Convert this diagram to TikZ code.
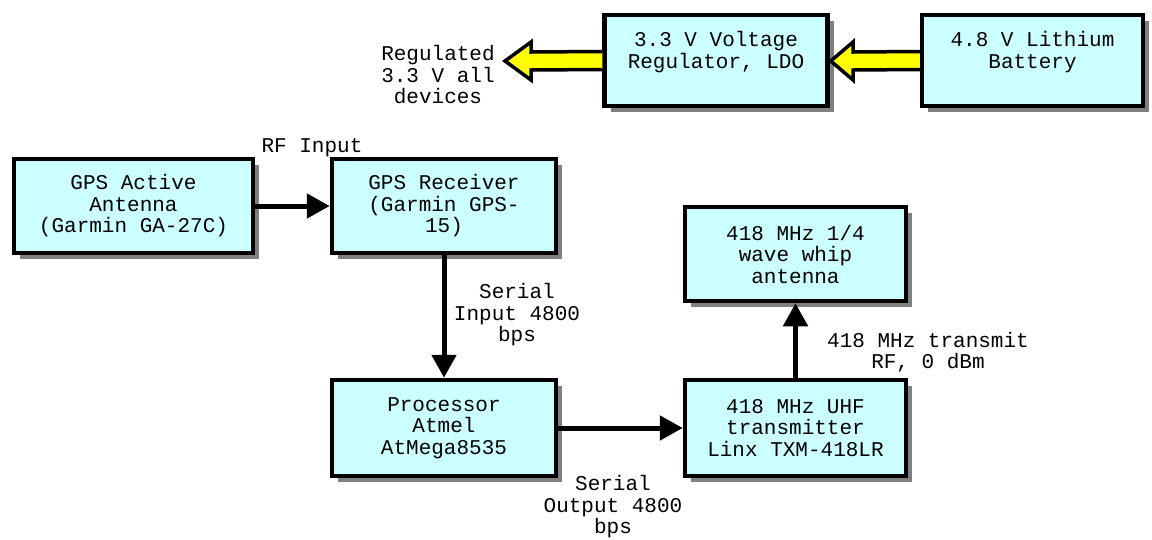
\documentclass[tikz,border=0pt]{standalone}
\usepackage{fontspec}
\setmainfont{Liberation Mono}
\usetikzlibrary{arrows.meta,shadows,calc}
\definecolor{boxfill}{HTML}{CCFFFF}
\definecolor{shadowgray}{HTML}{808080}
\definecolor{fatyellow}{HTML}{FFFF00}
\newcommand{\diagfont}{\fontsize{21}{21.5}\selectfont}
\begin{document}
\begin{tikzpicture}[x=1pt,y=-1pt,
  box/.style={draw=black, line width=4.5pt, fill=boxfill, align=center,
    inner sep=0pt, font=\diagfont,
    drop shadow={shadow xshift=6pt, shadow yshift=-6pt, fill=shadowgray, opacity=1}},
  lbl/.style={align=center, inner sep=0pt, font=\diagfont},
  conn/.style={line width=5pt, -{Triangle[width=24pt,length=23pt]}},
  fatbody/.style={fill=fatyellow},
  fatline/.style={draw=black, line width=3.5pt, line join=miter}]
\useasboundingbox (0,0) rectangle (1152,539);

% boxes
\node[box, minimum width=223pt, minimum height=91pt] (reg) at (716,60.5)
  {3.3 V Voltage\\Regulator, LDO\\\mbox{}};
\node[box, minimum width=221pt, minimum height=91pt] (bat) at (1032.5,60.5)
  {4.8 V Lithium\\Battery\\\mbox{}};
\node[box, minimum width=239pt, minimum height=94pt] (ant) at (133.5,206)
  {GPS Active\\Antenna\\(Garmin GA-27C)};
\node[box, minimum width=224pt, minimum height=94pt] (rcv) at (444,206)
  {GPS Receiver\\(Garmin GPS-\\15)};
\node[box, minimum width=224pt, minimum height=96pt] (proc) at (444,428)
  {Processor\\Atmel\\AtMega8535};
\node[box, minimum width=221pt, minimum height=94pt] (whip) at (795.5,254)
  {418 MHz 1/4\\wave whip\\antenna};
\node[box, minimum width=221pt, minimum height=96pt] (tx) at (795.5,428)
  {418 MHz UHF\\transmitter\\Linx TXM-418LR};

% fat yellow arrows
\coordinate (regtip) at (505,61);
\fill[fatbody] ($(reg.west)+(0,-9)$) -- (531,52) -- (531,42) -- (regtip)
  -- (531,80) -- (531,70) -- ($(reg.west)+(0,9)$) -- cycle;
\draw[fatline] ($(reg.west)+(0,-9)$) -- (531,52) -- (531,42) -- (regtip)
  -- (531,80) -- (531,70) -- ($(reg.west)+(0,9)$);

\fill[fatbody] ($(bat.west)+(0,-9)$) -- (853,52) -- (853,42) -- ($(reg.east)+(1,0.5)$)
  -- (853,80) -- (853,70) -- ($(bat.west)+(0,9)$) -- cycle;
\draw[fatline] ($(bat.west)+(0,-9)$) -- (853,52) -- (853,42) -- ($(reg.east)+(1,0.5)$)
  -- (853,80) -- (853,70) -- ($(bat.west)+(0,9)$);

% connectors
\draw[conn] (ant.east) -- (rcv.west);
\draw[conn] (rcv.south) -- (proc.north);
\draw[conn] (proc.east) -- (tx.west);
\draw[conn] (tx.north) -- (whip.south);

% labels
\node[lbl] (lreg) at (438,75) {Regulated\\3.3 V all\\devices};
\node[lbl] (lrf) at (312,148) {RF Input};
\node[lbl] (lsin) at (517,315) {Serial\\Input 4800\\bps};
\node[lbl] (lsout) at (613,507) {Serial\\Output 4800\\bps};
\node[lbl] (lrf418) at (928,352) {418 MHz transmit\\RF, 0 dBm};
\end{tikzpicture}
\end{document}
